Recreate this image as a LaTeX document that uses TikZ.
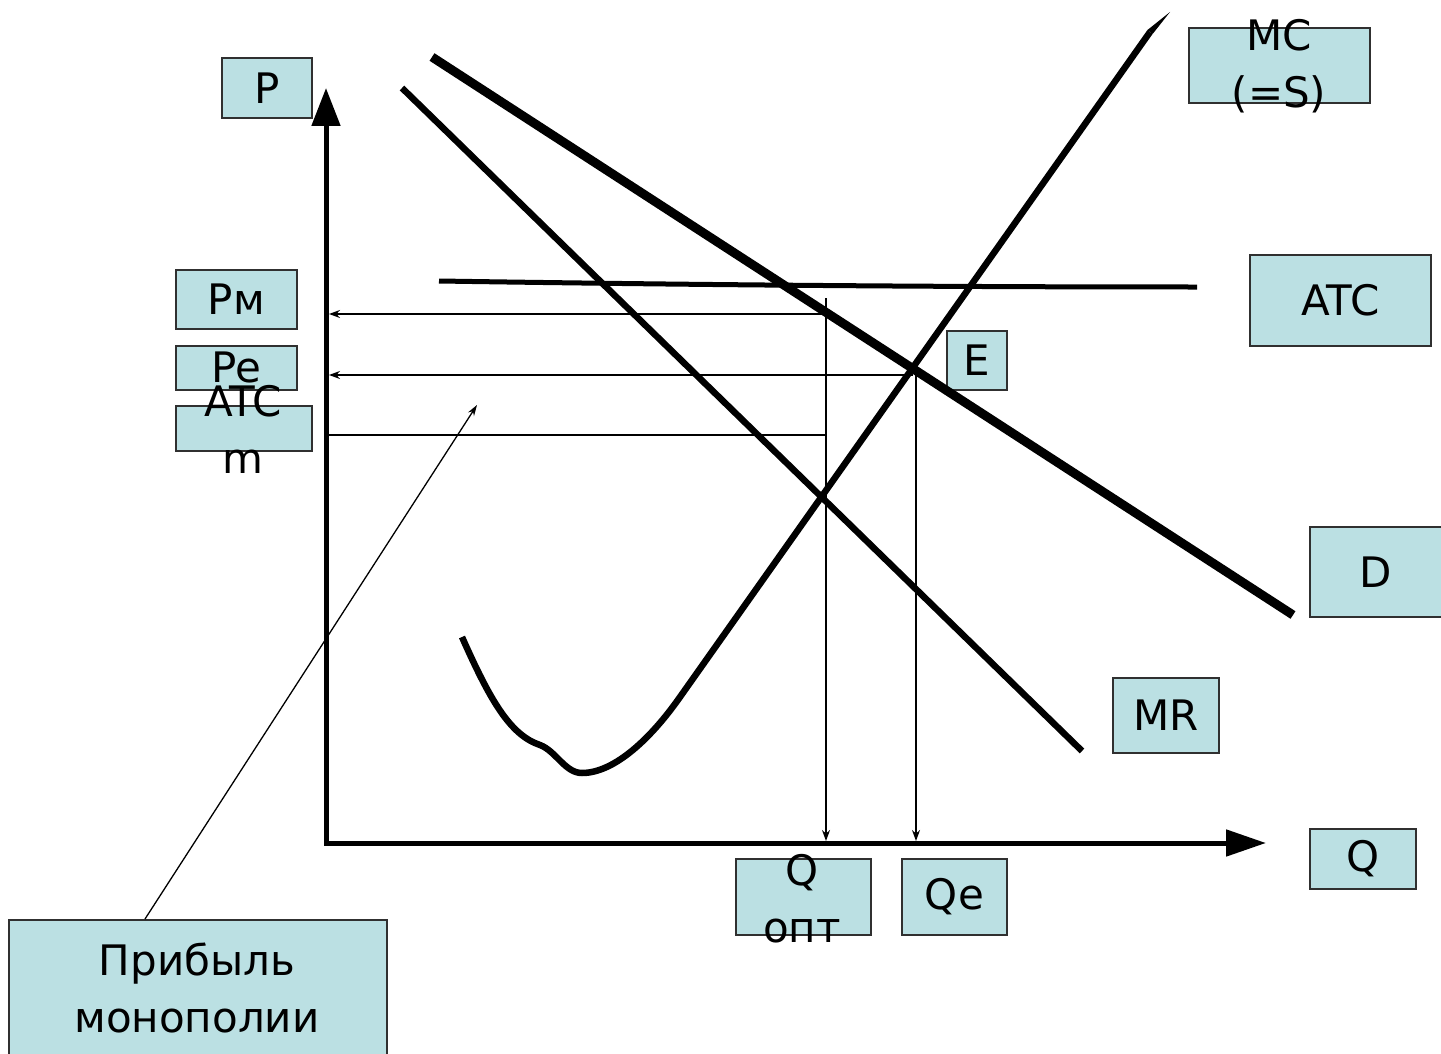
\documentclass[tikz,border=0pt]{standalone}
\usepackage{fontspec}
\setmainfont{DejaVu Sans}
\usetikzlibrary{arrows.meta}
\definecolor{boxfill}{HTML}{BBE0E3}
\definecolor{boxline}{HTML}{303030}
\begin{document}
\begin{tikzpicture}[x=1pt,y=-1pt,
  box/.style={draw=boxline, line width=1.8pt, fill=boxfill, inner sep=0pt, anchor=north west},
  lbl/.style={font=\fontsize{42}{57}\selectfont, align=center, inner sep=0pt},
  axis/.style={line width=5pt},
  thinline/.style={line width=1.3pt},
  thinarrow/.style={line width=1.3pt, -{Stealth[length=11pt,width=8pt]}},
  curve/.style={line width=6.5pt}]
\useasboundingbox (0,0) rectangle (1441,1054);

% label boxes
\node[box, minimum width=90pt, minimum height=60pt] (pbox) at (221,57) {};
\node[lbl] at (pbox.center) {P};
\node[box, minimum width=181pt, minimum height=75pt] (mcbox) at (1188,27) {};
\node[box, minimum width=181pt, minimum height=91pt] (atcbox) at (1249,254) {};
\node[box, minimum width=121pt, minimum height=59pt] (pmbox) at (175,269) {};
\node[lbl] at (pmbox.center) {Pм};
\node[box, minimum width=121pt, minimum height=44pt] (pebox) at (175,345) {};
\node[box, minimum width=136pt, minimum height=45pt] (atcmbox) at (175,405) {};
\node[lbl] at (pebox.center) {Pe};
\node[lbl] at (243,429) {ATC\\m};
\node[lbl] at (atcbox.center) {ATC};
\node[box, minimum width=60pt, minimum height=59pt] (ebox) at (946,330) {};
\node[lbl] at (ebox.center) {E};
\node[box, minimum width=132pt, minimum height=90pt] (dbox) at (1309,526) {};
\node[lbl] at (dbox.center) {D};
\node[box, minimum width=106pt, minimum height=75pt] (mrbox) at (1112,677) {};
\node[lbl] at (mrbox.center) {MR};
\node[box, minimum width=106pt, minimum height=60pt] (qbox) at (1309,828) {};
\node[lbl] at (qbox.center) {Q};
\node[box, minimum width=135pt, minimum height=76pt] (qoptbox) at (735,858) {};
\node[lbl] at (802,899) {Q\\опт};
\node[box, minimum width=105pt, minimum height=76pt] (qebox) at (901,858) {};
\node[lbl] at (qebox.center) {Qe};
\node[box, minimum width=378pt, minimum height=145pt] (profbox) at (8,919) {};
\node[lbl] at (197,988) {Прибыль\\монополии};
\node[lbl] at (1279,66) {MC\\(=S)};

% axes
\coordinate (origin) at (326,845);
\coordinate (ptop) at (326,88);
\coordinate (qend) at (1266,843);
\draw[axis, -{Triangle[length=38pt,width=28pt]}] (origin) -- (ptop);
\draw[axis, -{Triangle[length=40pt,width=26pt]}] (324,843) -- (qend);

% curves
\draw[line width=9pt] (432,57) -- (1293,615);
\draw[curve] (402,88) -- (1082,751);
\draw[line width=5pt] (439,281) .. controls (700,285) and (950,287) .. (1197,287);
\draw[curve, line join=round] (462,637) .. controls (490,700) and (510,735) .. (540,745)
  .. controls (556,751) and (565,773) .. (582,773)
  .. controls (615,773) and (652,737) .. (680,697) -- (1150,32);
\fill (1147.3,30.1) -- (1170,12) -- (1152.7,33.9) -- cycle;

% guide lines
\coordinate (pmR) at (826,314);
\coordinate (pmL) at (329,314);
\coordinate (peR) at (913,375);
\coordinate (peL) at (329,375);
\coordinate (acR) at (826,435);
\coordinate (acL) at (328,435);
\coordinate (qoT) at (826,298);
\coordinate (qoB) at (826,841);
\coordinate (qeT) at (916,370);
\coordinate (qeB) at (916,841);
\draw[thinarrow] (pmR) -- (pmL);
\draw[thinarrow] (peR) -- (peL);
\draw[thinline] (acR) -- (acL);
\draw[thinarrow] (qoT) -- (qoB);
\draw[thinarrow] (qeT) -- (qeB);
\coordinate (profTop) at (145,919);
\coordinate (profTip) at (477,405);
\draw[thinline, -{Stealth[length=11pt,width=7pt]}] (profTop) -- (profTip);
\end{tikzpicture}
\end{document}
